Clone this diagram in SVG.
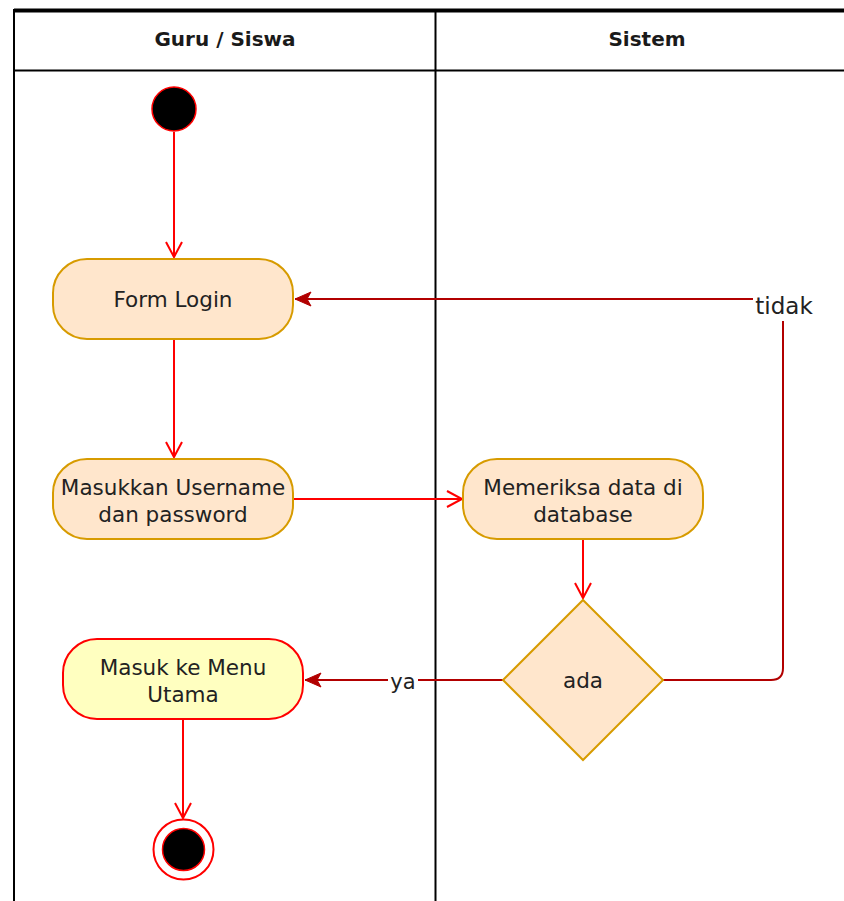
<svg xmlns="http://www.w3.org/2000/svg" width="844" height="901" viewBox="0 0 844 901">
  <style>
    .lane { fill: none; stroke: #000; stroke-width: 2; }
    .head { font-family: "DejaVu Sans", "Liberation Sans", sans-serif; font-weight: bold; font-size: 20px; fill: #1a1a1a; text-anchor: middle; }
    .act { fill: #ffe6cc; stroke: #d79b00; stroke-width: 2; }
    .act2 { fill: #ffffc0; stroke: #ff0000; stroke-width: 2; }
    .txt { font-family: "DejaVu Sans", "Liberation Sans", sans-serif; font-size: 21.5px; fill: #222; text-anchor: middle; }
    .flow { fill: none; stroke: #ff0000; stroke-width: 2; }
    .flow-dark { fill: none; stroke: #b20000; stroke-width: 2; }
    .lbl { font-family: "DejaVu Sans", "Liberation Sans", sans-serif; font-size: 21px; fill: #222; text-anchor: middle; }
  </style>
  <defs>
    <marker id="open" markerUnits="userSpaceOnUse" markerWidth="24" markerHeight="24" viewBox="-20 -12 24 24" refX="0" refY="0" orient="auto">
      <path d="M-15,-8 L0,0 L-15,8" fill="none" stroke="#ff0000" stroke-width="2"/>
    </marker>
    <marker id="block" markerUnits="userSpaceOnUse" markerWidth="24" markerHeight="24" viewBox="-20 -12 24 24" refX="0" refY="0" orient="auto">
      <path d="M0,0 L-16,-7 L-12,0 L-16,7 Z" fill="#b20000" stroke="#b20000" stroke-width="1"/>
    </marker>
  </defs>

  <rect width="844" height="901" fill="#fff"/>

  <!-- swimlane pool -->
  <g id="pool">
    <rect class="lane" x="14" y="10" width="900" height="1000"/>
    <line x1="14" y1="10.5" x2="844" y2="10.5" stroke="#000" stroke-width="4"/>
    <line class="lane" x1="14" y1="70.5" x2="844" y2="70.5"/>
    <line class="lane" x1="435.5" y1="10" x2="435.5" y2="901"/>
    <text class="head" x="225" y="45.5">Guru / Siswa</text>
    <text class="head" x="647" y="45.5">Sistem</text>
  </g>

  <!-- connectors -->
  <g id="connectors">
    <path class="flow" d="M174,132 V257" marker-end="url(#open)"/>
    <path class="flow" d="M174,339 V457" marker-end="url(#open)"/>
    <path class="flow" d="M293,499 H462" marker-end="url(#open)"/>
    <path class="flow" d="M583,539 V598" marker-end="url(#open)"/>
    <path class="flow" d="M183,719 V818" marker-end="url(#open)"/>
    <path class="flow-dark" d="M503,680 H305" marker-end="url(#block)"/>
    <path class="flow-dark" d="M663,680 H771 Q783,680 783,668 V299 H295" marker-end="url(#block)"/>
    <rect x="388" y="668" width="30" height="27" fill="#fff"/>
    <text class="lbl" x="403" y="689">ya</text>
    <rect x="753" y="290" width="62" height="31" fill="#fff"/>
    <text class="lbl" x="784" y="314" style="font-size:23px">tidak</text>
  </g>

  <g id="start">
    <circle cx="174" cy="109" r="22" fill="#000" stroke="#ff0000" stroke-width="1.5"/>
  </g>

  <g id="form-login">
    <rect class="act" x="53" y="259" width="240" height="80" rx="34" ry="34"/>
    <text class="txt" x="173" y="306.5">Form Login</text>
  </g>

  <g id="input-credentials">
    <rect class="act" x="53" y="459" width="240" height="80" rx="34" ry="34"/>
    <text class="txt" x="173" y="495">Masukkan Username</text>
    <text class="txt" x="173" y="522">dan password</text>
  </g>

  <g id="check-database">
    <rect class="act" x="463" y="459" width="240" height="80" rx="34" ry="34"/>
    <text class="txt" x="583" y="495">Memeriksa data di</text>
    <text class="txt" x="583" y="522">database</text>
  </g>

  <g id="decision">
    <polygon class="act" points="583,600 663,680 583,760 503,680"/>
    <text class="txt" x="583" y="688">ada</text>
  </g>

  <g id="main-menu">
    <rect class="act2" x="63" y="639" width="240" height="80" rx="34" ry="34"/>
    <text class="txt" x="183" y="675">Masuk ke Menu</text>
    <text class="txt" x="183" y="702">Utama</text>
  </g>

  <g id="end">
    <circle cx="183.5" cy="849.5" r="30" fill="#fff" stroke="#ff0000" stroke-width="2"/>
    <circle cx="183.5" cy="849.5" r="21" fill="#000" stroke="#ff0000" stroke-width="1.5"/>
  </g>
</svg>
